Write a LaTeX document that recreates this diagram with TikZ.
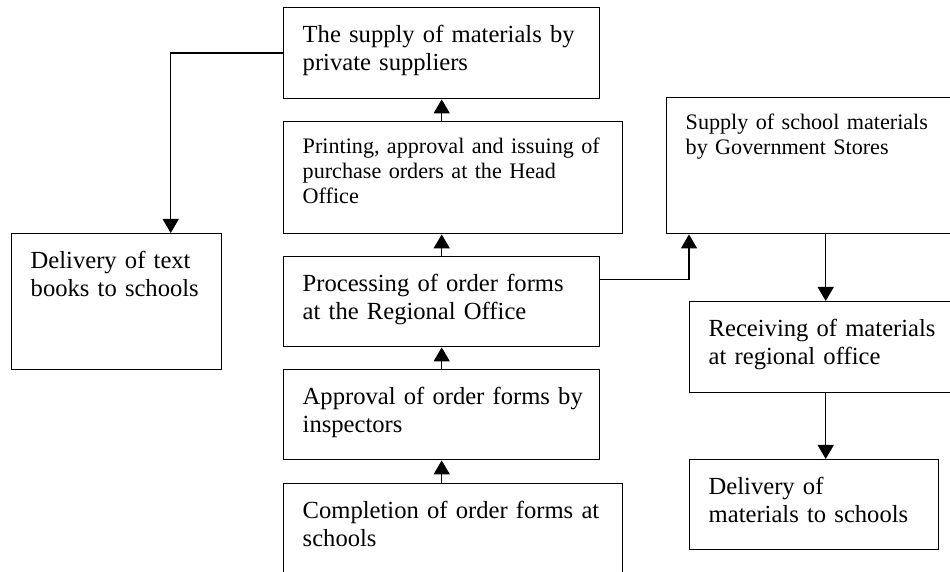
\documentclass[tikz,border=0pt]{standalone}
\usepackage{fontspec}
\setmainfont{Liberation Serif}
\usetikzlibrary{arrows.meta, positioning}

\begin{document}
\begin{tikzpicture}[>=Triangle]
  \tikzstyle{stage} = [rectangle, draw=black, line width=0.8pt, anchor=north west, align=left, inner xsep=0.38cm, inner ysep=0pt, text height=0.7cm, font=\fontsize{14pt}{15.9pt}\selectfont]
  \tikzstyle{stage_s} = [stage, text height=0.64cm, font=\fontsize{12.6pt}{14.2pt}\selectfont]
  \tikzstyle{link} = [-{Triangle[width=0.32cm, length=0.28cm]}, line width=0.8pt]

  \useasboundingbox (0, 0) rectangle (19, 11.44);

  % Centre column: from the schools up to the Head Office
  \node [stage, text width=5.56cm, text depth=1.12cm] (private) at (5.66, 11.30) {The supply of materials by\\private suppliers};
  \node [stage_s, text width=6.02cm, text depth=1.60cm] (printing) at (5.66, 9.02) {Printing, approval and issuing of\\purchase orders at the Head\\Office};
  \node [stage, text width=5.56cm, text depth=1.10cm] (processing) at (5.66, 6.32) {Processing of order forms\\at the Regional Office};
  \node [stage, text width=5.56cm, text depth=1.10cm] (approval) at (5.66, 4.06) {\mbox{Approval of order forms by}\\inspectors};
  \node [stage, text width=6.02cm, text depth=1.24cm] (completion) at (5.66, 1.78) {Completion of order forms at\\schools};

  % Left: text books
  \node [stage, text width=3.44cm, text depth=2.02cm] (textbooks) at (0.22, 6.78) {Delivery of text\\books to schools};

  % Right column: Government Stores
  \node [stage_s, text width=5.14cm, text depth=2.08cm] (government) at (13.32, 9.50) {Supply of school materials\\by Government Stores};
  \node [stage, text width=4.68cm, text depth=1.12cm] (receiving) at (13.78, 5.42) {Receiving of materials\\at regional office};
  \node [stage, text width=4.22cm, text depth=1.10cm] (delivery) at (13.78, 2.26) {Delivery of\\materials to schools};

  % Arrows centre column
  \draw[link] (approval.south |- completion.north) -- (approval.south);
  \draw[link] (approval.north) -- (processing.south);
  \draw[link] (processing.north) -- (processing.north |- printing.south);
  \draw[link] (private.south |- printing.north) -- (private.south);

  % Branches
  \draw[link] (private.west) -| ([xshift=1.08cm]textbooks.north);
  \draw[link] ([yshift=0.44cm]processing.east) -| ([xshift=0.46cm]government.south west);

  % Arrows right column
  \draw[link] (receiving.north |- government.south) -- (receiving.north);
  \draw[link] (receiving.south) -- (receiving.south |- delivery.north);
\end{tikzpicture}
\end{document}
